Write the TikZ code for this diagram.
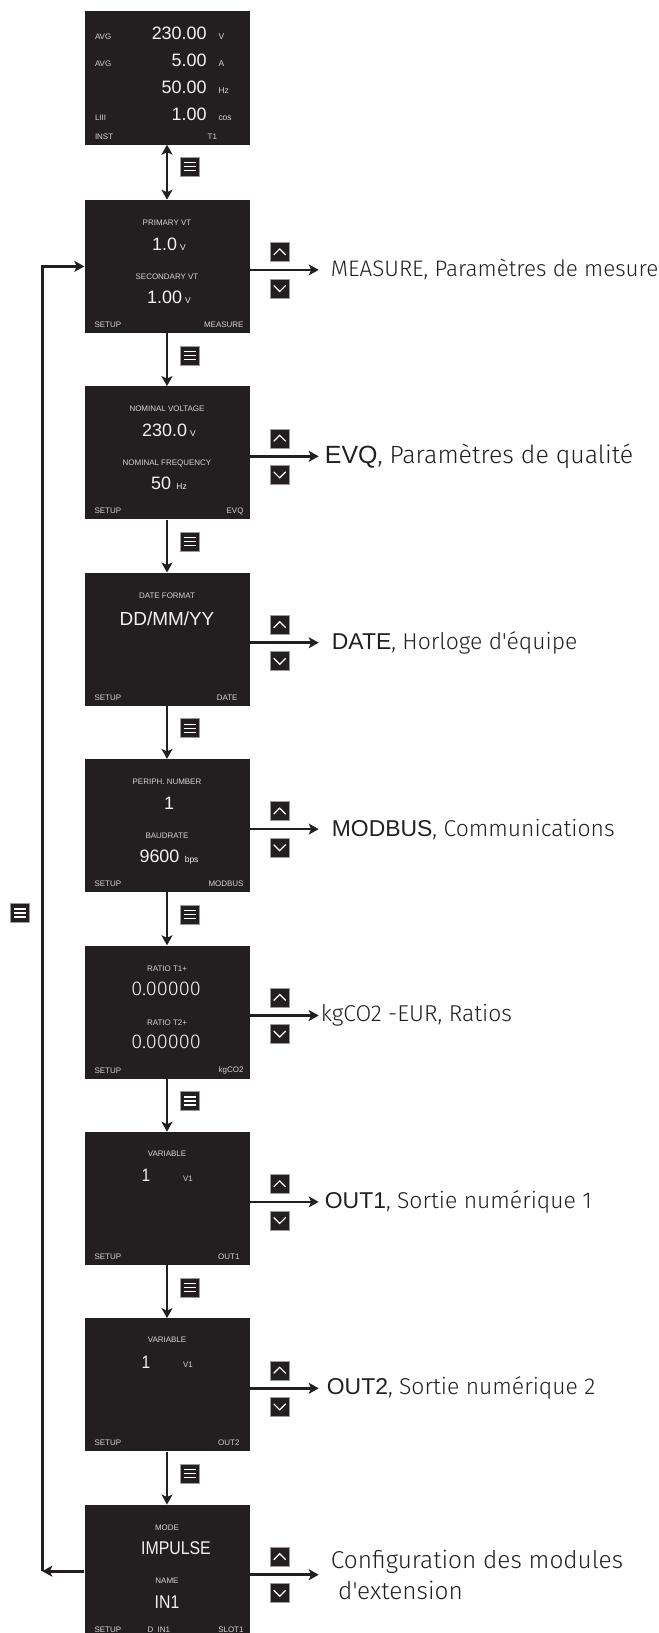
\documentclass[tikz,border=0pt]{standalone}
\usepackage{fontspec}
\setmainfont{Liberation Sans}
\newfontfamily\lblfont{Fira Sans Light}
\newfontfamily\narrowfont{Liberation Sans}[FakeStretch=0.86]
\usetikzlibrary{positioning,arrows.meta,calc}
\definecolor{scrFill}{HTML}{231F20}
\definecolor{scrLabel}{HTML}{D4D4D4}
\definecolor{scrValue}{HTML}{F2F2F2}
\definecolor{keyStroke}{HTML}{9A9A9A}
\definecolor{flowColor}{HTML}{231F20}
\newcommand{\valsz}{\fontsize{18}{20}\selectfont}
\newcommand{\unitsz}{\fontsize{8.5}{9}\selectfont}
\newcommand{\labsz}{\fontsize{8}{9}\selectfont}
\newcommand{\infosz}{\fontsize{23}{31}\selectfont}

\begin{document}
\begin{tikzpicture}[
  x=1bp, y=1bp,
  screen/.style ={fill=scrFill, minimum width=165bp, minimum height=133bp, inner sep=0pt},
  lab/.style    ={text=scrLabel, font=\labsz, inner sep=0pt},
  val/.style    ={text=scrValue, font=\valsz, inner sep=0pt},
  foot/.style   ={text=scrLabel, font=\labsz, inner sep=0pt},
  key/.style    ={draw=keyStroke, fill=scrFill, line width=0.6bp, minimum size=19bp, inner sep=0pt},
  chev/.style   ={white, line width=1.2bp},
  keyup/.style  ={key, path picture={\draw[chev] ($(path picture bounding box.center)+(-6,-3)$) -- ++(6,6) -- ++(6,-6);}},
  keydown/.style={key, path picture={\draw[chev] ($(path picture bounding box.center)+(-6,3)$) -- ++(6,-6) -- ++(6,6);}},
  menu/.style   ={key, path picture={\foreach \d in {-4,0,4} \draw[white, line width=1.3bp] ($(path picture bounding box.center)+(-6,\d)$) -- ++(12,0);}},
  flow/.style   ={-{Stealth[length=10bp, width=11bp, inset=2.5bp]}, line width=2.6bp, flowColor},
  flowboth/.style={{Stealth[length=10bp, width=11bp, inset=2.5bp]}-{Stealth[length=10bp, width=11bp, inset=2.5bp]}, line width=2.6bp, flowColor},
  info/.style   ={font=\lblfont\infosz, text=flowColor, inner sep=0pt, anchor=west, align=left},
]
\useasboundingbox (0,0) rectangle (659,-1633);

% ==================== Screens column ====================
\node[screen] (s1) at (167,-78) {};
\node[screen, below=55bp of s1] (s2) {};
\node[screen, below=53bp of s2] (s3) {};
\node[screen, below=53bp of s3] (s4) {};
\node[screen, below=53bp of s4] (s5) {};
\node[screen, below=53bp of s5] (s6) {};
\node[screen, below=53bp of s6] (s7) {};
\node[screen, below=53bp of s7] (s8) {};
\node[screen, below=53bp of s8] (s9) {};

% INST screen: four readings
\foreach \lab/\v/\u [count=\i] in {AVG/230.00/V, AVG/5.00/A, /50.00/Hz, LIII/1.00/cos} {
  \pgfmathsetmacro{\y}{28+(\i-1)*27.2}
  \node[lab, anchor=base west] (s1l\i) at ($(s1.north west)+(10.5,-\y)$) {\lab};
  \node[val, anchor=base east] (s1v\i) at ($(s1.north west)+(122.5,-\y)$) {\v};
  \node[lab, font=\unitsz, anchor=base west] (s1u\i) at ($(s1.north west)+(134,-\y)$) {\u};
}
\node[foot, anchor=base west] (s1fl) at ($(s1.north west)+(10.5,-128.5)$) {INST};
\node[foot, anchor=base] (s1fr) at ($(s1.north west)+(128,-128.5)$) {T1};

% SETUP screens with two readings
\foreach \s/\dx/\la/\va/\lb/\vb/\tag in {
    2/2/PRIMARY VT/1.0\,{\unitsz V}/SECONDARY VT/1.00\,{\unitsz V}/MEASURE,
    3/2/NOMINAL VOLTAGE/230.0\,{\unitsz V}/NOMINAL FREQUENCY/50\,{\unitsz\ Hz}/EVQ,
    5/2/PERIPH. NUMBER/1/BAUDRATE/9600\,{\unitsz\ bps}/MODBUS,
    6/-1/RATIO T1+/{\lblfont\fontsize{20}{22}\selectfont 0.00000}/RATIO T2+/{\lblfont\fontsize{20}{22}\selectfont 0.00000}/kgCO2} {
  \node[lab] (s\s la) at ($(s\s.north)+(0,-23)$) {\la};
  \node[val, anchor=base] (s\s va) at ($(s\s.north)+(\dx,-50.5)$) {\va};
  \node[lab] (s\s lb) at ($(s\s.north)+(0,-77)$) {\lb};
  \node[val, anchor=base] (s\s vb) at ($(s\s.north)+(\dx,-103.5)$) {\vb};
  \node[foot, anchor=west] (s\s fl) at ($(s\s.north west)+(10,-125)$) {SETUP};
  \node[foot, anchor=east] (s\s fr) at ($(s\s.north east)+(-6,-125)$) {\tag};
}

% DATE screen
\node[lab] (s4la) at ($(s4.north)+(0,-23)$) {DATE FORMAT};
\node[val, font=\fontsize{19}{21}\selectfont] (s4va) at ($(s4.north)+(0,-46)$) {DD/MM/YY};
\node[foot, anchor=west] (s4fl) at ($(s4.north west)+(10,-125)$) {SETUP};
\node[foot, anchor=east] (s4fr) at ($(s4.north east)+(-12,-125)$) {DATE};

% OUT screens
\foreach \s/\tag in {7/OUT1, 8/OUT2} {
  \node[lab] (s\s la) at ($(s\s.north)+(0,-22)$) {VARIABLE};
  \node[val] (s\s va) at ($(s\s.north)+(-21,-44)$) {\narrowfont 1};
  \node[lab] (s\s vu) at ($(s\s.north)+(21,-47)$) {V1};
  \node[foot, anchor=west] (s\s fl) at ($(s\s.north west)+(10,-125)$) {SETUP};
  \node[foot, anchor=east] (s\s fr) at ($(s\s.north east)+(-10,-125)$) {\tag};
}

% extension slot screen
\node[lab] (s9la) at ($(s9.north)+(0,-23)$) {MODE};
\node[val, font=\narrowfont\fontsize{18.5}{20}\selectfont] (s9va) at ($(s9.north)+(9,-44)$) {IMPULSE};
\node[lab] (s9lb) at ($(s9.north)+(0,-76)$) {NAME};
\node[val, font=\narrowfont\fontsize{18.5}{20}\selectfont] (s9vb) at ($(s9.north)+(0,-98)$) {IN1};
\node[foot, anchor=west] (s9fl) at ($(s9.north west)+(10,-125)$) {SETUP};
\node[foot, anchor=west] (s9fm) at ($(s9.north west)+(63,-125)$) {D\ \ IN1};
\node[foot, anchor=east] (s9fr) at ($(s9.north east)+(-6,-125)$) {SLOT1};

% ==================== Menu key arrows down the column ====================
\draw[flowboth] (s1.south) -- (s2.north);
\node[menu] (m1) at ($(s1.south)!0.4!(s2.north)+(23,0)$) {};
\foreach \a/\b in {2/3, 3/4, 4/5, 5/6, 6/7, 7/8, 8/9} {
  \draw[flow] (s\a.south) -- (s\b.north);
  \node[menu] (m\a) at ($(s\a.south)!0.42!(s\b.north)+(23,0)$) {};
}

% ==================== Up/down keys and submenus ====================
\foreach \s in {2,...,9} {
  \coordinate (e\s) at ($(s\s.east)+(69,-3.5)$);
  \draw[flow] ($(s\s.east)+(0,-3.5)$) -- (e\s);
  \node[keyup] (ku\s) at ($(s\s.east)+(30,14.5)$) {};
  \node[keydown] (kd\s) at ($(s\s.east)+(30,-22)$) {};
}
\node[info, font=\lblfont\fontsize{22.5}{31}\selectfont] (t2) at ($(e2)+(12,0)$) {MEASURE, Paramètres de mesure};
\node[info, font=\lblfont\fontsize{25}{31}\selectfont] (t3) at ($(e3)+(6,0)$) {{\rmfamily EVQ}, Paramètres de qualité};
\node[info] (t4) at ($(e4)+(13,0)$) {{\rmfamily DATE}, Horloge d'équipe};
\node[info] (t5) at ($(e5)+(13,0)$) {{\rmfamily MODBUS}, Communications};
\node[info] (t6) at ($(e6)+(2,0)$)  {kgCO2 -EUR, Ratios};
\node[info] (t7) at ($(e7)+(6,0)$)  {{\rmfamily OUT1}, Sortie numérique 1};
\node[info] (t8) at ($(e8)+(8,0)$)  {{\rmfamily OUT2}, Sortie numérique 2};
\node[info, font=\lblfont\fontsize{24.5}{31}\selectfont] (t9) at ($(e9)+(12,0)$) {Configuration des modules\\\hspace{0.3em}d'extension};

% ==================== Return to first SETUP screen ====================
\coordinate (loopB) at ($(s9.west)+(-42,0)$);
\draw[flow] (s9.west) -- (loopB);
\draw[flow] (loopB) |- (s2.west);
\node[menu] (mloop) at (20,-913) {};

\end{tikzpicture}
\end{document}
